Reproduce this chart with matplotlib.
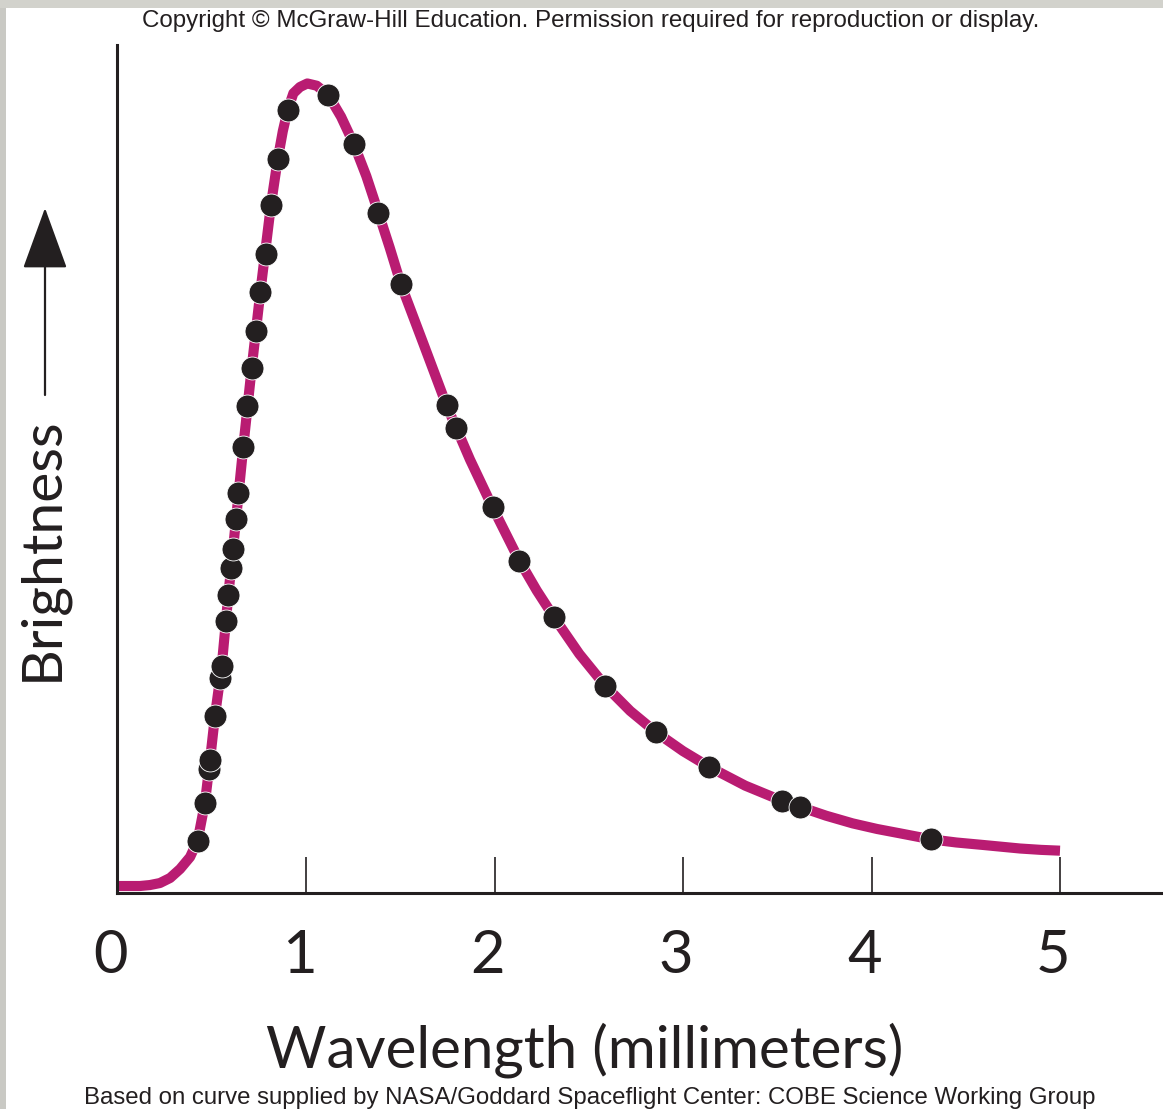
import matplotlib
matplotlib.use("Agg")
import matplotlib.pyplot as plt
from matplotlib.patches import Rectangle
from matplotlib.transforms import ScaledTranslation

# measured points of the curve (wavelength in mm, brightness in arbitrary units)
curve_x = [0.0, 0.119, 0.172, 0.225, 0.279, 0.332, 0.385, 0.425, 0.464, 0.491,
           0.517, 0.553, 0.588, 0.629, 0.667, 0.712, 0.758, 0.814, 0.850, 0.877,
           0.903, 0.933, 0.968, 1.007, 1.057, 1.118, 1.186, 1.255, 1.320, 1.384,
           1.444, 1.504, 1.625, 1.746, 1.870, 1.990, 2.132, 2.224, 2.316, 2.450,
           2.587, 2.720, 2.855, 3.000, 3.140, 3.330, 3.524, 3.760, 3.900, 4.030,
           4.151, 4.314, 4.450, 4.593, 4.788, 4.900, 5.0]
curve_y = [0.0, 0.0, 0.12, 0.37, 1.0, 2.12, 3.61, 5.64, 10.37, 15.69,
           21.17, 27.40, 36.24, 45.70, 54.63, 64.55, 74.01, 84.81, 90.50, 94.0,
           96.64, 98.72, 99.5, 99.94, 99.66, 98.51, 95.8, 92.34, 88.4, 83.85,
           79.5, 74.91, 67.4, 59.84, 53.1, 47.16, 40.51, 36.8, 33.46, 28.9,
           24.94, 21.8, 19.18, 16.8, 14.82, 12.5, 10.62, 8.75, 7.8, 7.1,
           6.56, 5.82, 5.42, 5.11, 4.67, 4.5, 4.40]

# COBE measurements (dots)
obs_x = [0.425, 0.464, 0.485, 0.491, 0.517, 0.544, 0.553, 0.576, 0.588, 0.602,
         0.611, 0.629, 0.641, 0.667, 0.689, 0.712, 0.733, 0.758, 0.786, 0.814,
         0.850, 0.903, 1.118, 1.255, 1.384, 1.504, 1.746, 1.794, 1.990, 2.132,
         2.316, 2.587, 2.855, 3.140, 3.524, 3.621, 4.314]
obs_y = [5.64, 10.37, 14.57, 15.69, 21.17, 25.87, 27.40, 33.04, 36.24, 39.60,
         41.97, 45.70, 48.98, 54.63, 59.81, 64.55, 69.08, 74.01, 78.67, 84.81,
         90.50, 96.64, 98.51, 92.34, 83.85, 74.91, 59.84, 57.00, 47.16, 40.51,
         33.46, 24.94, 19.18, 14.82, 10.62, 9.88, 5.82]

tick_vals = [0, 1, 2, 3, 4, 5]
tick_text = ["0", "1", "2", "3", "4", "5"]

W, H = 1163, 1109
ink = "#231f20"
magenta = "#b91c72"
big_font = ["Lato", "DejaVu Sans"]

fig = plt.figure(figsize=(W / 100, H / 100), dpi=100)
fig.patch.set_facecolor("white")

# grey scan border on the left and top
fig.patches.append(Rectangle((0, 0), 6 / W, 1, transform=fig.transFigure,
                             facecolor="#c9c9c4", edgecolor="none"))
fig.patches.append(Rectangle((0, 1 - 8 / H), 1, 8 / H, transform=fig.transFigure,
                             facecolor="#d2d2cc", edgecolor="none"))

ax = fig.add_axes([117.5 / W, 216 / H, 1045.5 / W, 848 / H])
ax.set_xlim(0, 1045.5 / 188.5)
ax.set_ylim(-0.87, 104.73)

ax.plot(curve_x, curve_y, color=magenta, lw=7.3, solid_capstyle="butt",
        solid_joinstyle="round", zorder=2)
ax.plot(obs_x, obs_y, "o", color=ink, ms=16.5, mec="white", mew=0.6, zorder=3)

for side in ["top", "right"]:
    ax.spines[side].set_visible(False)
for side in ["left", "bottom"]:
    ax.spines[side].set_linewidth(2.2)
    ax.spines[side].set_color(ink)

ax.set_yticks([])
ax.set_xticks(tick_vals)
ax.set_xticklabels(tick_text, fontsize=43, family=big_font, fontweight="normal",
                   color=ink)
ax.tick_params(axis="x", direction="in", length=26, width=1.2, color=ink, pad=26)
ax.xaxis.get_major_ticks()[0].tick1line.set_visible(False)
shift = ScaledTranslation(-7 / 100, 0, fig.dpi_scale_trans)
for lab in ax.get_xticklabels():
    lab.set_transform(lab.get_transform() + shift)

ax.set_xlabel("Wavelength (millimeters)", fontsize=42, family=big_font,
              fontweight="normal", color=ink, va="center")
ax.xaxis.set_label_coords(0.447, (893 - 1050) / 848)

# y label with arrow
fig.text(42 / W, 1 - 549 / H, "Brightness", rotation=90, ha="center", va="center",
         fontsize=41, family=big_font, fontweight="normal", color=ink)
ax.annotate("", xy=(45 / W, 1 - 208 / H), xytext=(45 / W, 1 - 395 / H),
            xycoords="figure fraction", textcoords="figure fraction",
            arrowprops=dict(arrowstyle="-|>,head_length=0.99,head_width=0.36",
                            mutation_scale=40, lw=1.6, color=ink,
                            shrinkA=0, shrinkB=0))

fig.text(591 / W, 1 - 21 / H,
         "Copyright \u00a9 McGraw-Hill Education. Permission required for reproduction or display.",
         ha="center", va="center", fontsize=17.35, family="Liberation Sans", color=ink)
fig.text(590 / W, 1 - 1098 / H,
         "Based on curve supplied by NASA/Goddard Spaceflight Center: COBE Science Working Group",
         ha="center", va="center", fontsize=17.3, family="Liberation Sans", color=ink)

fig.savefig("out.png", dpi=100)
